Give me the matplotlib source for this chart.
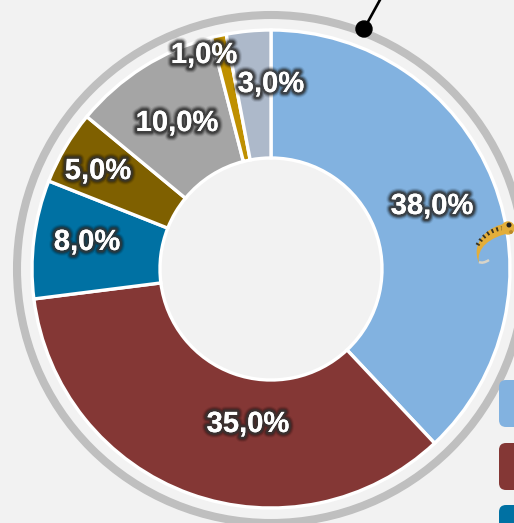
"""Doughnut chart with percentage labels, cropped legend keys and a small pin decoration."""

import matplotlib

matplotlib.use("Agg")
import matplotlib.patheffects as pe
import matplotlib.pyplot as plt
from matplotlib.patches import Circle, FancyBboxPatch, PathPatch
from matplotlib.path import Path

values = [38.0, 35.0, 8.0, 5.0, 10.0, 1.0, 3.0]
labels = ["38,0%", "35,0%", "8,0%", "5,0%", "10,0%", "1,0%", "3,0%"]
colors = ["#82B2E0", "#843735", "#0071A3", "#7F6000", "#A5A5A5", "#BF9000", "#ADB9CA"]

WIDTH, HEIGHT = 514, 523
BG = "#F2F2F2"
CX, CY = 271, HEIGHT - 269
RADIUS = 239
HOLE = 111
# label centres, pixels from the top left
LABEL_POS = [(432, 206), (248, 424), (87, 242), (98, 171), (177, 123), (204, 55), (271, 84)]


def py(y):
    return HEIGHT - y


fig = plt.figure(figsize=(WIDTH / 100, HEIGHT / 100), dpi=100, facecolor=BG)
ax = fig.add_axes([0, 0, 1, 1])

# outer grey ring
ax.add_patch(Circle((CX, CY), 254, fill=False, edgecolor="#BFBFBF", linewidth=5.8, zorder=1))

ax.pie(
    values,
    colors=colors,
    startangle=90,
    counterclock=False,
    center=(CX, CY),
    radius=RADIUS,
    frame=True,
    wedgeprops={"width": RADIUS - HOLE, "edgecolor": "white", "linewidth": 2.4, "zorder": 2},
)
ax.set_xlim(0, WIDTH)
ax.set_ylim(0, HEIGHT)
ax.set_aspect("equal")
ax.axis("off")

# leader line and its dot
ax.plot([364, 381], [py(29), py(-2)], color="black", linewidth=1.9, zorder=3, solid_capstyle="butt")
ax.add_patch(Circle((364, py(29)), 8, color="black", zorder=4))

# legend keys running off the edge
for color, top in zip(colors[:3], [380, 443, 505]):
    ax.add_patch(
        FancyBboxPatch(
            (505, py(top + 41)),
            30,
            35,
            boxstyle="round,pad=6,rounding_size=7",
            facecolor=color,
            edgecolor="none",
            zorder=3,
        )
    )

# small curled insect on the blue slice: tapered body, stripes, tail, head
body = Path(
    [
        (509, py(223)),
        (488, py(225)),
        (470, py(243)),
        (479, py(263)),
        (476, py(248)),
        (490, py(237)),
        (510, py(233)),
        (509, py(223)),
    ],
    [Path.MOVETO, Path.CURVE4, Path.CURVE4, Path.CURVE4, Path.CURVE4, Path.CURVE4, Path.CURVE4, Path.CLOSEPOLY],
)
ax.add_patch(PathPatch(body, facecolor="#E3AE3A", edgecolor="none", zorder=5))
stripes = Path(
    [(503, py(228)), (491, py(230)), (482, py(236)), (477, py(246))],
    [Path.MOVETO, Path.CURVE4, Path.CURVE4, Path.CURVE4],
)
ax.add_patch(
    PathPatch(
        stripes,
        fill=False,
        edgecolor="#3A3320",
        linewidth=3.0,
        linestyle=(0, (0.45, 0.75)),
        zorder=6,
    )
)
tail = Path(
    [(479, py(262)), (483, py(264)), (489, py(260))],
    [Path.MOVETO, Path.CURVE3, Path.CURVE3],
)
ax.add_patch(PathPatch(tail, fill=False, edgecolor="#D8D4C8", linewidth=1.8, zorder=5))
ax.add_patch(Circle((508, py(228)), 6, color="#E3AE3A", zorder=6))
ax.add_patch(Circle((509, py(225)), 1.8, color="#222222", zorder=7))
ax.add_patch(Circle((511, py(232)), 1.2, color="#B98A2A", zorder=7))

# labels with a soft dark glow
glow = [
    pe.withStroke(linewidth=8, foreground="#000000", alpha=0.08),
    pe.withStroke(linewidth=6.5, foreground="#000000", alpha=0.16),
    pe.withStroke(linewidth=5, foreground="#222222", alpha=0.35),
    pe.withStroke(linewidth=3.5, foreground="#333333", alpha=0.7),
    pe.Normal(),
]
for text, (x, y) in zip(labels, LABEL_POS):
    ax.text(
        x,
        py(y),
        text,
        ha="center",
        va="center",
        color="white",
        fontsize=21,
        fontweight="bold",
        family="Liberation Sans",
        path_effects=glow,
        zorder=8,
    )

fig.savefig("out.png", dpi=100, facecolor=BG)
